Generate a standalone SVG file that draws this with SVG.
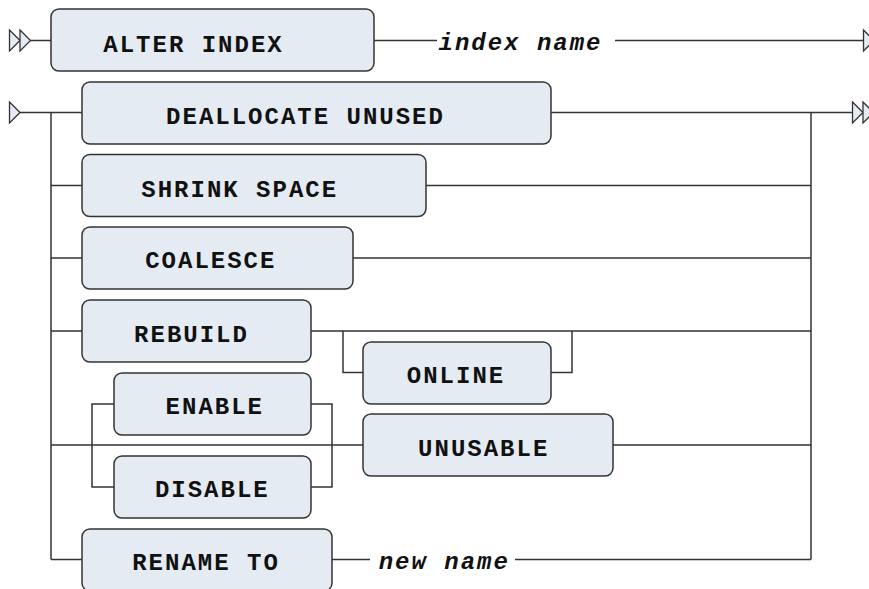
<svg xmlns="http://www.w3.org/2000/svg" width="869" height="589" viewBox="0 0 869 589">
<style>
.bg{fill:#ffffff}
.box{fill:#e4ebf2;stroke:#333333;stroke-width:1.5}
.ln{fill:none;stroke:#333333;stroke-width:1.5}
.term{fill:#e4ebf2;stroke:#333333;stroke-width:1.3;stroke-linejoin:miter}
.kw{font-family:"Liberation Mono","DejaVu Sans Mono",monospace;font-weight:bold;font-size:24px;letter-spacing:2px;fill:#111111;text-anchor:middle}
.var{font-family:"Liberation Mono","DejaVu Sans Mono",monospace;font-weight:bold;font-style:italic;font-size:24px;letter-spacing:2px;fill:#111111;text-anchor:middle}
</style>
<rect class="bg" x="0" y="0" width="869" height="589"/>
<g id="connectors">
<polygon class="term" points="9.5,30 20,40.5 9.5,51"/>
<polygon class="term" points="20,30 30.5,40.5 20,51"/>
<polygon class="term" points="863.5,30 874,40.5 863.5,51"/>
<polygon class="term" points="9.5,102 20,112.5 9.5,123"/>
<polygon class="term" points="852.5,102 863,112.5 852.5,123"/>
<polygon class="term" points="863,102 873.5,112.5 863,123"/>
<path class="ln" d="M30.5 40.5H51M374 40.5H437M615 40.5H863.5"/>
<path class="ln" d="M20 112.5H82M51 112.5V559.5M51 185.5H82M51 258H82M51 331H82M51 445H363M51 559.5H82"/>
<path class="ln" d="M551 112.5H852.5M811 112.5V559.5M426 185.5H811M353 258H811M311 331H811M613 445H811M515 559.5H811M332 559.5H370"/>
<path class="ln" d="M343 331V372.5H363M551 372.5H572V331"/>
<path class="ln" d="M114 404H92V487H114M311 404H332V487H311"/>
</g>
<g id="node-alter-index"><rect class="box" x="51" y="9" width="323" height="62" rx="8"/><text class="kw" x="193.5" y="52">ALTER INDEX</text></g>
<g id="node-index-name"><text class="var" x="520.5" y="49.5">index name</text></g>
<g id="node-deallocate-unused"><rect class="box" x="82" y="82" width="469" height="62" rx="8"/><text class="kw" x="305.5" y="123.5">DEALLOCATE UNUSED</text></g>
<g id="node-shrink-space"><rect class="box" x="82" y="154.5" width="344" height="62" rx="8"/><text class="kw" x="239.7" y="197.3">SHRINK SPACE</text></g>
<g id="node-coalesce"><rect class="box" x="82" y="227" width="271" height="62" rx="8"/><text class="kw" x="210.8" y="268.3">COALESCE</text></g>
<g id="node-rebuild"><rect class="box" x="82" y="300" width="229" height="62" rx="8"/><text class="kw" x="191.5" y="341.7">REBUILD</text></g>
<g id="node-online"><rect class="box" x="363" y="342" width="188" height="62" rx="8"/><text class="kw" x="456" y="382.7">ONLINE</text></g>
<g id="node-enable"><rect class="box" x="114" y="373" width="197" height="62" rx="8"/><text class="kw" x="214.8" y="414">ENABLE</text></g>
<g id="node-disable"><rect class="box" x="114" y="456" width="197" height="62" rx="8"/><text class="kw" x="212.3" y="497.3">DISABLE</text></g>
<g id="node-unusable"><rect class="box" x="363" y="414" width="250" height="62" rx="8"/><text class="kw" x="483.7" y="456">UNUSABLE</text></g>
<g id="node-rename-to"><rect class="box" x="82" y="529" width="250" height="62" rx="8"/><text class="kw" x="206" y="570">RENAME TO</text></g>
<g id="node-new-name"><text class="var" x="444.3" y="569.3">new name</text></g>
</svg>
